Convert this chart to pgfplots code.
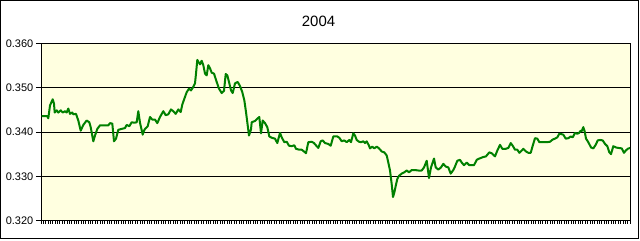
\documentclass[border=0pt]{standalone}
\usepackage{pgfplots}
\pgfplotsset{compat=1.18}
\usepackage{fontspec}
\setmainfont{Liberation Sans}
\definecolor{plotbg}{HTML}{FFFFE0}
\definecolor{linegreen}{HTML}{008000}
\begin{document}
\begin{tikzpicture}[x=1bp,y=1bp]
\path[use as bounding box] (0,0) rectangle (640,240);
\draw[line width=1bp] (0.5,1.5) rectangle (638.5,239.5);
\node[font=\fontsize{15}{18}\selectfont] at (318.5,218.8) {2004};
\begin{axis}[
  at={(41bp,19.5bp)}, anchor=south west,
  scale only axis, width=589bp, height=177bp,
  xmin=41, xmax=630, ymin=0.32, ymax=0.36,
  axis background/.style={fill=plotbg},
  axis line style={black, line width=1bp},
  ytick={0.32,0.33,0.34,0.35,0.36},
  xtick={41,43.356,...,630},
  xticklabels={},
  xtick pos=lower, ytick pos=left,
  tick align=outside,
  tick style={black, line width=0.8bp},
  xtick style={/pgfplots/major tick length=3bp},
  ytick style={/pgfplots/major tick length=5bp},
  ymajorgrids,
  major grid style={black, line width=1bp},
  scaled y ticks=false,
  yticklabel style={font=\fontsize{11}{13}\selectfont, /pgf/number format/.cd, fixed, fixed zerofill, precision=3, assume math mode=true},
  clip=true,
]
\addplot[linegreen, line width=2bp, line join=round] coordinates {
(41.7,0.3436)(47.3,0.3436)(48.3,0.3431)(50,0.3460)(52.7,0.3474)(54,0.3464)(54.7,0.3444)(56.7,0.3449)(58.3,0.3444)(60.7,0.3449)(62.7,0.3444)(65,0.3447)(66.7,0.3444)(68.3,0.3453)(70,0.3441)(72.3,0.3444)(73.3,0.3440)(76,0.3441)(78.3,0.3426)(80.7,0.3403)(83.3,0.3416)(86.7,0.3426)(89.3,0.3422)(90.7,0.3411)(93.3,0.3379)(95,0.3392)(97.3,0.3407)(100,0.3415)(105,0.3415)(108.3,0.3415)(110,0.3420)(112.3,0.3419)(114,0.3379)(116,0.3385)(118.3,0.3405)(121.7,0.3407)(125,0.3409)(126.7,0.3416)(129.3,0.3413)(131.7,0.3422)(134.3,0.3421)(136.7,0.3422)(138.3,0.3447)(140,0.3421)(142.7,0.3394)(144,0.3403)(145,0.3407)(147.7,0.3413)
(150,0.3434)(152.3,0.3428)(155,0.3428)(157.3,0.3420)(160,0.3434)(163.3,0.3447)(165.7,0.3438)(168.3,0.3440)(171,0.3451)(173.3,0.3447)(175.7,0.3441)(178.3,0.3451)(180.7,0.3445)(182.3,0.3462)(184.3,0.3475)(186.7,0.3490)(189,0.3498)(191,0.3494)(193.3,0.3502)(195,0.3510)(196,0.3532)(197.3,0.3563)(198.3,0.3559)(200,0.3553)(201.7,0.3561)(203.3,0.3551)(205,0.3532)(206.7,0.3528)(208.3,0.3551)(210,0.3544)(211.7,0.3534)(214,0.3532)(216.7,0.3513)(219,0.3498)(221.7,0.3488)(224,0.3493)(225.7,0.3531)(227.3,0.3528)(229,0.3513)(231,0.3494)(232.7,0.3488)(235,0.3510)(237.7,0.3513)(240,0.3504)(242.3,0.3490)(244.3,0.3472)(246,0.3445)(247.7,0.3415)(249,0.3392)(251,0.3406)
(251.7,0.3422)(255,0.3425)(257.3,0.3430)(259.3,0.3434)(261,0.3397)(262.7,0.3426)(265,0.3420)(267.3,0.3411)(269.3,0.3390)(271.7,0.3387)(275,0.3385)(277.3,0.3375)(280,0.3398)(281.7,0.3388)(284.3,0.3377)(286.7,0.3378)(289,0.3369)(291.7,0.3368)(294.3,0.3370)(296,0.3362)(299.3,0.3360)(301.7,0.3360)(304,0.3356)(306,0.3352)(308.3,0.3377)(311.7,0.3378)(314,0.3375)(316.7,0.3368)(318.3,0.3364)(320.7,0.3379)(322.7,0.3381)(325,0.3375)(328.3,0.3373)(330.7,0.3369)(333.3,0.3390)(337.3,0.3390)(339.3,0.3387)(341.7,0.3379)(344.3,0.3381)(346.7,0.3377)(349.3,0.3382)(351,0.3377)(353.3,0.3397)(355,0.3392)(356.7,0.3382)(359,0.3378)
(361,0.3377)(363.3,0.3379)(365,0.3375)(366.7,0.3379)(369,0.3369)(370,0.3363)(372.3,0.3367)(374.3,0.3363)(376.7,0.3367)(379,0.3363)(381.7,0.3356)(384.3,0.3354)(386.7,0.3347)(388.3,0.3331)(390,0.3313)(391.7,0.3282)(393,0.3253)(394.3,0.3263)(395.7,0.3278)(397.3,0.3294)(399,0.3301)(401.7,0.3306)(404.3,0.3309)(406.7,0.3313)(409,0.3309)(411.7,0.3314)(415,0.3314)(418.3,0.3313)(421.7,0.3313)(424,0.3320)(426.7,0.3335)(429,0.3296)(431,0.3320)(434,0.3340)(435.7,0.3320)(438.3,0.3315)(441,0.3320)(443.3,0.3328)(445.7,0.3322)(448.3,0.3320)(450.7,0.3306)(453.3,0.3314)(455,0.3322)(457.3,0.3335)(460,0.3337)
(461.7,0.3331)(464,0.3325)(466.7,0.3331)(469.3,0.3325)(471.7,0.3325)(474,0.3325)(476.7,0.3337)(479.3,0.3340)(482.7,0.3343)(486,0.3345)(489.3,0.3354)(491.7,0.3352)(495,0.3345)(497.3,0.3358)(500,0.3371)(502.3,0.3362)(505.7,0.3362)(508.3,0.3364)(510.7,0.3375)(512.7,0.3369)(515,0.3360)(517.3,0.3360)(519.3,0.3353)(521.7,0.3358)(523.3,0.3362)(526,0.3356)(528.3,0.3353)(530.7,0.3353)(532.7,0.3369)(535,0.3386)(537.3,0.3385)(539.3,0.3377)(542.7,0.3377)(547.3,0.3377)(550,0.3378)(552.7,0.3383)(555,0.3385)(557.3,0.3388)(559.3,0.3396)
(560,0.3396)(563.3,0.3394)(565.7,0.3385)(568.3,0.3386)(570.7,0.3390)(572.7,0.3388)(575,0.3398)(577.3,0.3396)(579,0.3398)(580.7,0.3403)(581.7,0.3402)(583.3,0.3411)(584.7,0.3401)(586,0.3385)(588.3,0.3377)(591,0.3365)(593.3,0.3363)(595.7,0.3371)(597.7,0.3381)(600,0.3382)(602.7,0.3381)(605,0.3373)(607.3,0.3368)(609.3,0.3354)(611,0.3350)(613.3,0.3368)(616,0.3365)(618.3,0.3364)(621.7,0.3363)(624,0.3353)(625.7,0.3358)(627.7,0.3362)(630,0.3364)
};
\end{axis}
\end{tikzpicture}
\end{document}
